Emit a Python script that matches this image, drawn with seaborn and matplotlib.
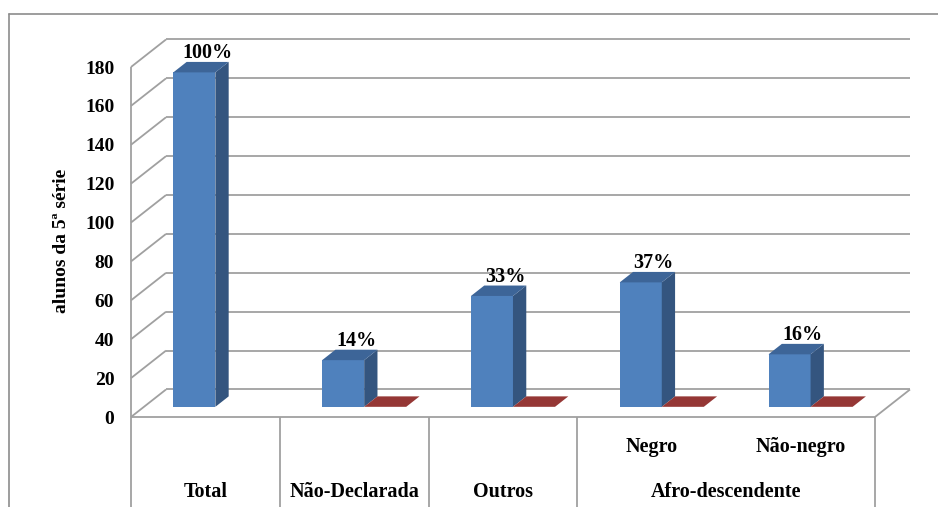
import numpy as np
import pandas as pd
import matplotlib
matplotlib.use("Agg")
import matplotlib.pyplot as plt
from matplotlib.patches import Polygon
from matplotlib.transforms import Affine2D
from matplotlib.lines import Line2D
from matplotlib.collections import LineCollection
import seaborn as sns

# ---------------- data ----------------
categories = ["Total", "Não-Declarada", "Outros", "Negro", "Não-negro"]
outer_group = "Afro-descendente"
outer_members = ["Negro", "Não-negro"]
alunos = [172, 24, 57, 64, 27]
serie2 = [np.nan, 0, 0, 0, 0]
series_names = ["alunos", "série 2"]
y_ticks = [0, 20, 40, 60, 80, 100, 120, 140, 160, 180]
y_label = "alunos da 5ª série"

percent = [round(v / alunos[0] * 100) for v in alunos]

df = pd.DataFrame({
    "categoria": categories * 2,
    "serie": [series_names[0]] * len(categories) + [series_names[1]] * len(categories),
    "valor": alunos + serie2,
})

# ---------------- style ----------------
sns.set_theme(style="white")
plt.rcParams["font.family"] = ["Liberation Serif", "DejaVu Serif"]
plt.rcParams["font.weight"] = "bold"
plt.rcParams["text.color"] = "black"
plt.rcParams["ytick.color"] = "black"
plt.rcParams["axes.labelcolor"] = "black"

BLUE = "#4F81BD"
BLUE_SIDE = "#34557F"
BLUE_TOP = "#3D6598"
RED = "#953735"
RED_TOP = "#953735"
GRID = "#A0A0A0"
FS_TICK = 14
FS = 14.5

fig = plt.figure(figsize=(9.38, 5.07), dpi=100)
ax = fig.add_axes([131 / 938, 90 / 507, 744 / 938, 350 / 507])

sns.barplot(data=df, x="categoria", y="valor", hue="serie", order=categories,
            hue_order=series_names, palette=[BLUE, RED], width=0.565,
            saturation=1, errorbar=None, legend=False, linewidth=0,
            ax=ax, zorder=3)

ax.set_xlim(-0.5, 4.5)
ax.set_ylim(0, 180)
for s in ax.spines.values():
    s.set_visible(False)

# depth of the 3D box (data units)
DX = 35 / 148.8
DY = 27.5 / 1.944
F0, F1 = 0.37, 0.75
XADJ = 0.02

# back wall gridlines and left wall diagonals
ax.hlines([v + DY for v in y_ticks], -0.5 + DX, 4.5 + DX, colors=GRID,
          linewidth=1.3, clip_on=False, zorder=1)
segs = [[(-0.5, v), (-0.5 + DX, v + DY)] for v in y_ticks]
segs.append([(-0.5, 0), (-0.5, y_ticks[-1])])
segs.append([(-0.5, 0), (4.5, 0)])
segs.append([(4.5, 0), (4.5 + DX, DY)])
ax.add_collection(LineCollection(segs, colors=GRID, linewidths=1.3,
                                 clip_on=False, zorder=1))

# category table lines
ax.vlines([-0.5, 0.5, 1.5, 2.5, 4.5], -0.26, 0, transform=ax.get_xaxis_transform(),
          colors=GRID, linewidth=1.3, clip_on=False, zorder=1)

# 3D faces
shift = Affine2D().translate(F0 * DX - XADJ, F0 * DY) + ax.transData
bdx, bdy = (F1 - F0) * DX, (F1 - F0) * DY
blue_rgb = np.array(matplotlib.colors.to_rgb(BLUE))
blue_bars = []
for p in list(ax.patches):
    h = p.get_height()
    if not np.isfinite(h):
        continue
    p.set_transform(shift)
    x0, w = p.get_x(), p.get_width()
    is_blue = np.allclose(np.array(p.get_facecolor()[:3]), blue_rgb, atol=0.02)
    if is_blue:
        blue_bars.append((x0, w, h))
        side = Polygon([(x0 + w, 0), (x0 + w, h), (x0 + w + bdx, h + bdy), (x0 + w + bdx, bdy)],
                       closed=True, facecolor=BLUE_SIDE, edgecolor="none",
                       transform=shift, zorder=3, clip_on=False)
        ax.add_patch(side)
    top = Polygon([(x0, h), (x0 + w, h), (x0 + w + bdx, h + bdy), (x0 + bdx, h + bdy)],
                  closed=True, facecolor=BLUE_TOP if is_blue else RED_TOP,
                  edgecolor="none", transform=shift, zorder=4, clip_on=False)
    ax.add_patch(top)

# data labels
for (x0, w, h), pct in zip(blue_bars, percent):
    ax.annotate(f"{pct}%", xy=(x0 + w / 2, h + bdy), xycoords=shift,
                xytext=(13, 4), textcoords="offset pixels", ha="center",
                va="baseline", fontsize=FS, fontweight="bold", color="black",
                zorder=6, annotation_clip=False)

# y axis
ax.set_yticks(y_ticks)
ax.set_yticklabels([str(v) for v in y_ticks], fontsize=FS_TICK, fontweight="bold")
ax.tick_params(axis="y", length=0, pad=12, colors="black")
ax.set_xticks([])
ax.set_xlabel("")
ax.set_ylabel(y_label, fontsize=FS - 0.5, fontweight="bold", color="black")
ax.yaxis.label.set_rotation_mode("anchor")
ax.yaxis.label.set_va("center")
ax.yaxis.label.set_ha("center")
ax.yaxis.set_label_coords((62 - 131) / 744, (417 - 241) / 350)

# category labels (two levels)
xt = ax.get_xaxis_transform()
row1 = -(452 - 417) / 350
row2 = -(497 - 417) / 350
for i, c in enumerate(categories):
    ax.text(i, row1 if c in outer_members else row2, c, transform=xt, ha="center",
            va="baseline", fontsize=FS, fontweight="bold", color="black")
idx = [categories.index(m) for m in outer_members]
ax.text(np.mean(idx), row2, outer_group, transform=xt, ha="center",
        va="baseline", fontsize=FS, fontweight="bold", color="black")

# outer chart border
fig.add_artist(Line2D([9 / 938, 1.0], [1 - 14 / 507, 1 - 14 / 507], color="#8C8C8C",
                      linewidth=1.2, transform=fig.transFigure))
fig.add_artist(Line2D([9 / 938, 9 / 938], [0, 1 - 14 / 507], color="#8C8C8C",
                      linewidth=1.2, transform=fig.transFigure))

fig.savefig("out.png", dpi=100)
